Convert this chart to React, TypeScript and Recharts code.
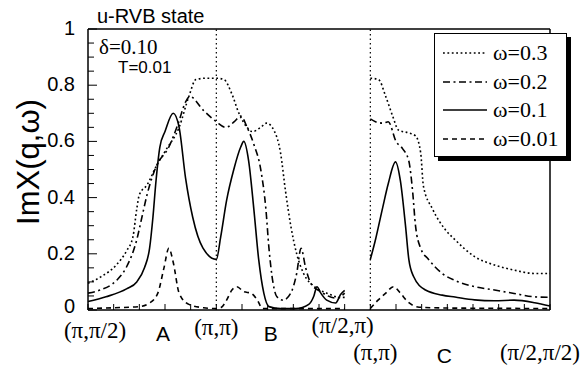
import { Legend, Line, LineChart, ReferenceLine, XAxis, YAxis } from "recharts";

const SANS = '"Liberation Sans", Arial, sans-serif';
const SERIF = '"Liberation Serif", "Times New Roman", serif';

// q path: (π,π/2) -> (π,π) -> (π/2,π) | (π,π) -> (π/2,π/2), 18 ticks along the cut
const xTicks = [0, 1, 2, 3, 4, 5, 6, 7, 8, 9, 10, 11, 12, 13, 14, 15, 16, 17, 18];
const xLabelAt = [0, 3, 5, 7, 10, 11, 14, 18];
const xLabelText = ["(π,π/2)", "A", "(π,π)", "B", "(π/2,π)", "(π,π)", "C", "(π/2,π/2)"];
const yTicks = [
	0, 0.05, 0.1, 0.15, 0.2, 0.25, 0.3, 0.35, 0.4, 0.45, 0.5, 0.55, 0.6, 0.65, 0.7,
	0.75, 0.8, 0.85, 0.9, 0.95, 1,
];

// [q, ImChi], null = break between the two cuts
const w03: [number, number | null][] = [
	[0, 0.095], [0.5, 0.118], [1.1, 0.16], [1.5, 0.21], [1.75, 0.26], [1.9, 0.36],
	[2.0, 0.41], [2.3, 0.445], [2.65, 0.51], [3.04, 0.57], [3.55, 0.65], [3.93, 0.76],
	[4.2, 0.82], [4.6, 0.825], [5, 0.825], [5.3, 0.82], [5.6, 0.77], [5.88, 0.7],
	[6.2, 0.65], [6.4, 0.635], [6.73, 0.65], [6.96, 0.665], [7.24, 0.64], [7.5, 0.56],
	[7.7, 0.42], [7.9, 0.3], [8.13, 0.2], [8.4, 0.13], [8.8, 0.085], [9.3, 0.06],
	[9.84, 0.045], [10, 0.045], [10.5, null],
	[11, 0.825], [11.32, 0.82], [11.6, 0.76], [11.87, 0.69], [12.1, 0.64], [12.5, 0.63],
	[12.76, 0.62], [12.96, 0.56], [13.07, 0.44], [13.42, 0.36], [13.93, 0.285],
	[14.3, 0.25], [15.06, 0.19], [15.84, 0.16], [16.6, 0.142], [17.4, 0.13], [18, 0.13],
];

const w02: [number, number | null][] = [
	[0, 0.06], [0.47, 0.071], [1.13, 0.107], [1.5, 0.153], [1.9, 0.25], [2.1, 0.33],
	[2.3, 0.41], [2.65, 0.51], [3.15, 0.58], [3.5, 0.66], [3.8, 0.74], [3.97, 0.76],
	[4.5, 0.71], [5, 0.67], [5.37, 0.65], [5.7, 0.67], [5.95, 0.69], [6.2, 0.65],
	[6.46, 0.59], [6.73, 0.5], [6.93, 0.36], [7.05, 0.22], [7.17, 0.12], [7.36, 0.047],
	[7.6, 0.035], [7.9, 0.06], [8.13, 0.13], [8.3, 0.22], [8.48, 0.15], [8.68, 0.095],
	[9.07, 0.065], [9.7, 0.042], [10, 0.06], [10.5, null],
	[11, 0.68], [11.2, 0.67], [11.5, 0.665], [11.7, 0.67], [12, 0.6], [12.25, 0.575],
	[12.5, 0.53], [12.65, 0.42], [12.76, 0.3], [12.96, 0.22], [13.27, 0.18], [13.8, 0.13],
	[14.3, 0.105], [15.06, 0.083], [15.84, 0.071], [16.6, 0.059], [17.4, 0.047], [18, 0.045],
];

const w01: [number, number | null][] = [
	[0, 0.03], [0.7, 0.047], [1.5, 0.075], [1.9, 0.1], [2.2, 0.15], [2.4, 0.22],
	[2.53, 0.33], [2.65, 0.46], [2.8, 0.58], [3.0, 0.635], [3.32, 0.7], [3.55, 0.65],
	[3.8, 0.47], [4.08, 0.33], [4.48, 0.22], [5, 0.18], [5.17, 0.26], [5.4, 0.39],
	[5.68, 0.5], [5.95, 0.58], [6.07, 0.6], [6.26, 0.53], [6.46, 0.36], [6.65, 0.18],
	[6.85, 0.06], [7.05, 0.012], [7.5, 0.005], [8.1, 0.005], [8.6, 0.02], [8.8, 0.05],
	[8.92, 0.083], [9.07, 0.06], [9.3, 0.035], [9.65, 0.025], [9.84, 0.055], [10, 0.07],
	[10.5, null],
	[11, 0.18], [11.2, 0.25], [11.47, 0.36], [11.7, 0.45], [11.98, 0.527], [12.17, 0.46],
	[12.37, 0.3], [12.5, 0.18], [12.68, 0.12], [13.15, 0.071], [13.8, 0.053], [14.3, 0.046],
	[15.06, 0.036], [15.84, 0.033], [16.6, 0.035], [17.4, 0.026], [18, 0.014],
];

const w001: [number, number | null][] = [
	[0, 0.005], [1, 0.008], [2.0, 0.012], [2.4, 0.025], [2.72, 0.06], [2.96, 0.15],
	[3.15, 0.22], [3.32, 0.17], [3.55, 0.06], [3.93, 0.02], [4.5, 0.008], [5, 0.005],
	[5.2, 0.01], [5.4, 0.035], [5.6, 0.07], [5.8, 0.083], [6.07, 0.065], [6.35, 0.06],
	[6.6, 0.035], [6.8, 0.005], [8, 0.005], [9, 0.005], [10, 0.005], [10.5, null],
	[11, 0.005], [11.3, 0.035], [11.6, 0.06], [11.9, 0.083], [12.17, 0.06], [12.45, 0.03],
	[12.9, 0.01], [14, 0.007], [16, 0.006], [18, 0.005],
];

const seriesNames = ["ω=0.3", "ω=0.2", "ω=0.1", "ω=0.01"];
const seriesData = [w03, w02, w01, w001];
const dashes = ["1.8 2.6", "7 3.5 2 3.5", undefined, "5 4"];

const toRows = (pts: [number, number | null][]) => pts.map(([u, v]) => ({ u, v }));

// label placement below the axis: [dx, dy, serif?]
const xLabelPos: [number, number, boolean][] = [
	[7, 28, true], [-2, 31, false], [0, 25, true], [3, 31, false],
	[-2, 23, true], [5, 50, true], [-3, 53, false], [-10, 50, true],
];

const BottomTick = (props: any) => {
	const { x, y, payload } = props;
	const i = xLabelAt.indexOf(payload.value);
	return (
		<g>
			<line x1={x} y1={y} x2={x} y2={y - 6} stroke="#000" strokeWidth={1} />
			{i >= 0 && (
				<text
					x={x + xLabelPos[i][0]}
					y={y + xLabelPos[i][1]}
					textAnchor="middle"
					fontFamily={xLabelPos[i][2] ? SERIF : SANS}
					fontSize={xLabelPos[i][2] ? 23 : 21}
					fill="#000"
				>
					{xLabelText[i]}
				</text>
			)}
		</g>
	);
};

const TopTick = (props: any) => {
	const { x, y } = props;
	return <line x1={x} y1={y} x2={x} y2={y + 6} stroke="#000" strokeWidth={1} />;
};

const isMajor = (v: number) => Math.abs(v * 5 - Math.round(v * 5)) < 1e-6;

const LeftTick = (props: any) => {
	const { x, y, payload } = props;
	const v = payload.value as number;
	const major = isMajor(v);
	return (
		<g>
			<line x1={x} y1={y} x2={x + (major ? 9 : 6)} y2={y} stroke="#000" strokeWidth={1} />
			{major && (
				<text
					x={x - 13}
					y={y + (v === 0 ? 3 : 6)}
					textAnchor="end"
					fontFamily={SANS}
					fontSize={20}
					fill="#000"
				>
					{v === 0 || v === 1 ? String(v) : v.toFixed(1)}
				</text>
			)}
		</g>
	);
};

const RightTick = (props: any) => {
	const { x, y, payload } = props;
	const major = isMajor(payload.value);
	return <line x1={x} y1={y} x2={x - (major ? 9 : 6)} y2={y} stroke="#000" strokeWidth={1} />;
};

const LegendBox = () => (
	<div
		style={{
			width: 133,
			height: 124,
			boxSizing: "border-box",
			border: "1.5px solid #000",
			boxShadow: "4px 4px 0 #000",
			background: "#fff",
			paddingTop: 5,
		}}
	>
		{seriesNames.map((name, i) => (
			<div
				key={name}
				style={{ height: 28.5, display: "flex", alignItems: "center" }}
			>
				<svg width={58} height={10} style={{ flexShrink: 0 }}>
					<line
						x1={8}
						y1={5}
						x2={52}
						y2={5}
						stroke="#000"
						strokeWidth={1.6}
						strokeDasharray={dashes[i]}
					/>
				</svg>
				<span style={{ fontFamily: SERIF, fontSize: 22, lineHeight: "22px" }}>
					{name}
				</span>
			</div>
		))}
	</div>
);

export default function App() {
	return (
		<div style={{ position: "absolute", left: 0, top: 0, width: 586, height: 367 }}>
			<LineChart
				width={586}
				height={367}
				margin={{ top: 19, right: 26, bottom: 27, left: 28 }}
			>
				<XAxis
					xAxisId="b"
					dataKey="u"
					type="number"
					domain={[0, 18]}
					ticks={xTicks}
					interval={0}
					height={30}
					tickSize={0}
					tickMargin={0}
					tick={<BottomTick />}
					tickLine={false}
					axisLine={{ stroke: "#000", strokeWidth: 1.5 }}
				/>
				<XAxis
					xAxisId="t"
					orientation="top"
					dataKey="u"
					type="number"
					domain={[0, 18]}
					ticks={xTicks}
					interval={0}
					height={10}
					tickSize={0}
					tickMargin={0}
					tick={<TopTick />}
					tickLine={false}
					axisLine={{ stroke: "#000", strokeWidth: 1.5 }}
				/>
				<YAxis
					yAxisId="l"
					type="number"
					domain={[0, 1]}
					ticks={yTicks}
					interval={0}
					width={60}
					tickSize={0}
					tickMargin={0}
					tick={<LeftTick />}
					tickLine={false}
					axisLine={{ stroke: "#000", strokeWidth: 1.5 }}
				/>
				<YAxis
					yAxisId="r"
					orientation="right"
					type="number"
					domain={[0, 1]}
					ticks={yTicks}
					interval={0}
					width={10}
					tickSize={0}
					tickMargin={0}
					tick={<RightTick />}
					tickLine={false}
					axisLine={{ stroke: "#000", strokeWidth: 1.5 }}
				/>
				<ReferenceLine xAxisId="b" yAxisId="l" x={5} stroke="#000" strokeWidth={1.2} strokeDasharray="1.5 3" />
				<ReferenceLine xAxisId="b" yAxisId="l" x={11} stroke="#000" strokeWidth={1.2} strokeDasharray="1.5 3" />
				{seriesData.map((pts, i) => (
					<Line
						key={seriesNames[i]}
						xAxisId="b"
						yAxisId="l"
						data={toRows(pts)}
						dataKey="v"
						name={seriesNames[i]}
						type="monotone"
						stroke="#000"
						strokeWidth={1.6}
						strokeDasharray={dashes[i]}
						dot={false}
						activeDot={false}
						isAnimationActive={false}
					/>
				))}
				<Legend
					layout="vertical"
					align="center"
					verticalAlign="middle"
					content={() => <LegendBox />}
					wrapperStyle={{ left: 434, top: 33, width: 133, height: 124 }}
				/>
			</LineChart>
			<svg
				width={586}
				height={367}
				style={{ position: "absolute", left: 0, top: 0, pointerEvents: "none" }}
			>
				<text x={97} y={23} fontFamily={SANS} fontSize={20} fill="#000">
					u-RVB state
				</text>
				<text x={99} y={54} fontFamily={SERIF} fontSize={21} fill="#000">
					δ=0.10
				</text>
				<text x={118} y={73} fontFamily={SANS} fontSize={17} fill="#000">
					T=0.01
				</text>
				<text
					x={0}
					y={0}
					transform="translate(39 162) rotate(-90)"
					textAnchor="middle"
					fontFamily={SANS}
					fontSize={31}
					fill="#000"
				>
					ImΧ(q,ω)
				</text>
			</svg>
		</div>
	);
}
